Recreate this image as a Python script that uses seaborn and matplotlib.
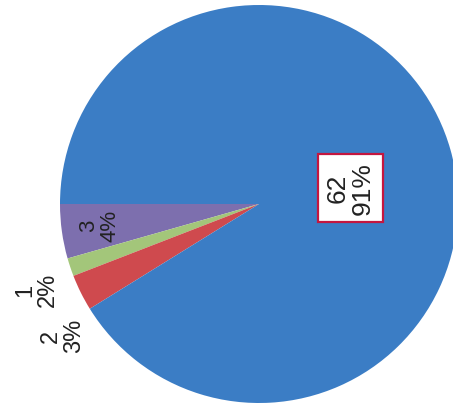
import numpy as np
import matplotlib
matplotlib.use("Agg")
import matplotlib.pyplot as plt
import seaborn as sns

# Data (drawing order: counter-clockwise from 180 degrees)
categories = ["3", "1", "2", "62"]
values = [3, 1, 2, 62]
pct_labels = ["4%", "2%", "3%", "91%"]

# Styling
colors = sns.color_palette(["#7d6fae", "#a3c67a", "#cf4a4e", "#3b7dc5"])
label_dist = [0.81, 1.20, 1.19, 0.465]
label_angle_offset = [0.0, 2.6, 7.5, -6.0]
label_size = [16, 17, 17, 19]

sns.set_style("white")
plt.rcParams["font.family"] = ["Liberation Sans", "DejaVu Sans"]

fig = plt.figure(figsize=(4.53, 4.12), dpi=100)
fig.patch.set_facecolor("white")
ax = fig.add_axes([0, 0, 1, 1])

wedges, _ = ax.pie(values, colors=colors, startangle=180, counterclock=True,
                   radius=1.0, wedgeprops=dict(linewidth=0))

for i, w in enumerate(wedges):
    theta = np.deg2rad((w.theta1 + w.theta2) / 2 + label_angle_offset[i])
    r = label_dist[i]
    txt = f"{categories[i]}\n{pct_labels[i]}"
    kw = dict(rotation=90, ha="center", va="center", fontsize=label_size[i],
              color="#222222", linespacing=1.05, multialignment="center")
    if i == 3:
        kw["bbox"] = dict(boxstyle="square,pad=0.3", facecolor="white",
                          edgecolor="#c4163f", linewidth=1.6)
    ax.text(r * np.cos(theta), r * np.sin(theta), txt, **kw)

# pixel geometry: center at (259, 204) from top-left, radius 199 px
scale = 199.0
cx, cy = 259.0, 204.0
ax.set_xlim(-cx / scale, (453 - cx) / scale)
ax.set_ylim(-(412 - cy) / scale, cy / scale)
ax.set_aspect("auto")
ax.axis("off")

fig.savefig("out.png", dpi=100, facecolor="white")
